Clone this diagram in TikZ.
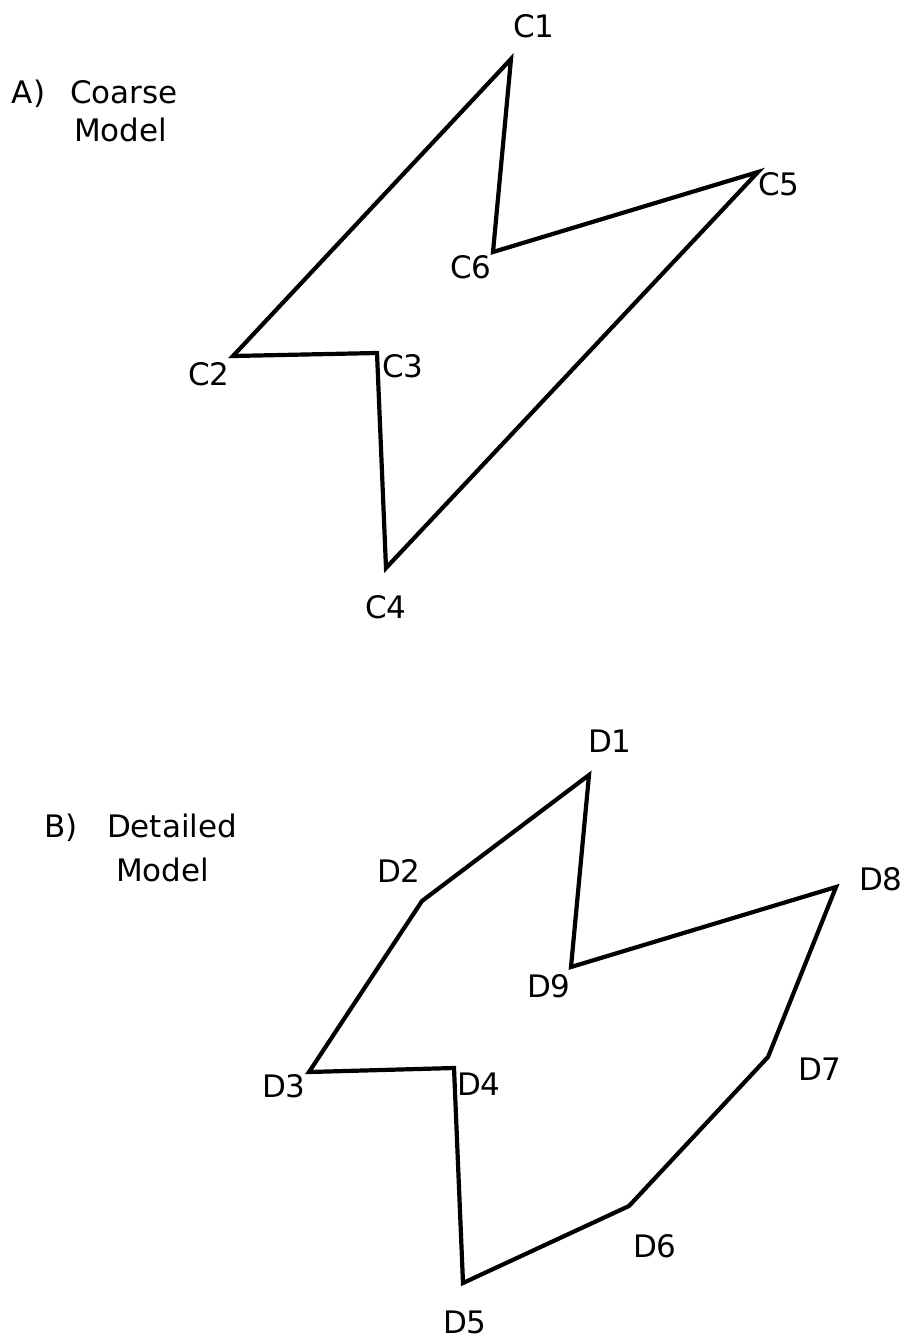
\documentclass[tikz,border=0pt]{standalone}
\usepackage{fontspec}
\setmainfont{DejaVu Sans}
\begin{document}
\begin{tikzpicture}[x=1pt,y=-1pt,
  outline/.style={line width=4.2pt,line join=miter,black},
  lbl/.style={anchor=base west,inner sep=0pt,outer sep=0pt,font=\fontsize{31}{37}\selectfont}]
\useasboundingbox[fill=white] (0,0) rectangle (902,1341);
% Coarse model vertices
\coordinate (c1) at (511,59);
\coordinate (c2) at (233,356);
\coordinate (c3) at (377,353);
\coordinate (c4) at (386,568);
\coordinate (c5) at (758,172);
\coordinate (c6) at (493,252);
\draw[outline] (c1) -- (c2) -- (c3) -- (c4) -- (c5) -- (c6) -- cycle;
% Detailed model vertices
\coordinate (d1) at (589,775);
\coordinate (d2) at (422,901);
\coordinate (d3) at (309,1072);
\coordinate (d4) at (454,1068);
\coordinate (d5) at (463,1283);
\coordinate (d6) at (629,1206);
\coordinate (d7) at (768,1057);
\coordinate (d8) at (836,887);
\coordinate (d9) at (571,967);
\draw[outline] (d1) -- (d2) -- (d3) -- (d4) -- (d5) -- (d6) -- (d7) -- (d8) -- (d9) -- cycle;
% titles
\node[lbl] (ta) at (12,103) {A)};
\node[lbl] (tac) at (70,103) {Coarse};
\node[lbl] (tam) at (74,141) {Model};
\node[lbl] (tb) at (44,837) {B)};
\node[lbl] (tbd) at (107,837) {Detailed};
\node[lbl] (tbm) at (116,881) {Model};
% coarse labels
\node[lbl] (lc1) at (513,37) {C1};
\node[lbl] (lc2) at (188,385) {C2};
\node[lbl] (lc3) at (382,377) {C3};
\node[lbl] (lc4) at (365,618) {C4};
\node[lbl] (lc5) at (758,195) {C5};
\node[lbl] (lc6) at (450,278) {C6};
% detailed labels
\node[lbl] (ld1) at (588,752) {D1};
\node[lbl] (ld2) at (377,882) {D2};
\node[lbl] (ld3) at (262,1097) {D3};
\node[lbl] (ld4) at (457,1095) {D4};
\node[lbl] (ld5) at (443,1333) {D5};
\node[lbl] (ld6) at (633,1257) {D6};
\node[lbl] (ld7) at (798,1080) {D7};
\node[lbl] (ld8) at (859,890) {D8};
\node[lbl] (ld9) at (527,997) {D9};
\end{tikzpicture}
\end{document}
